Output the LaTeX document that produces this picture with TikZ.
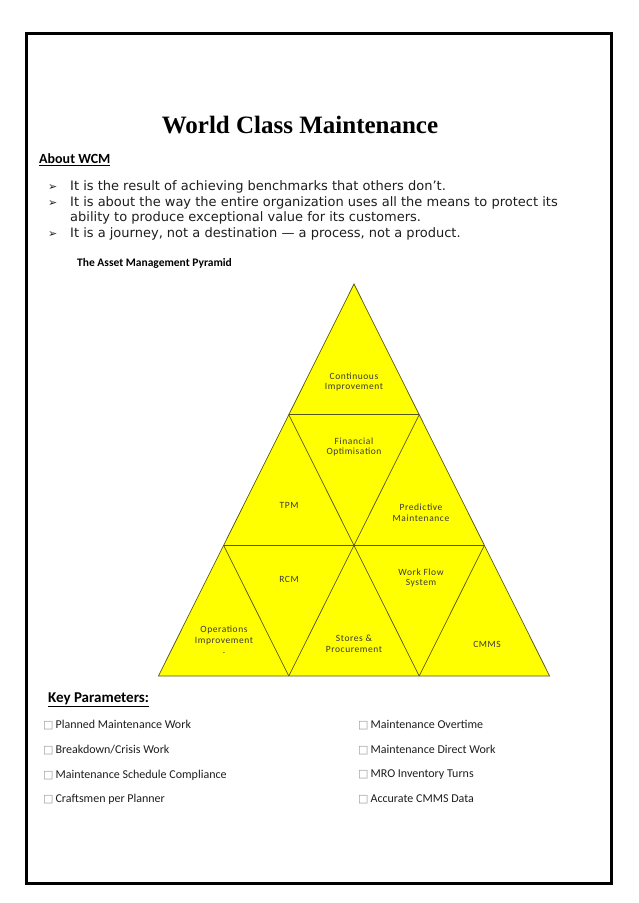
\documentclass[tikz,border=0pt]{standalone}
\definecolor{PYellow}{HTML}{FFFF00}
\definecolor{PEdge}{HTML}{55551C}
\definecolor{PText}{HTML}{3A3A3A}
\definecolor{BodyText}{HTML}{1E1E1E}
\definecolor{BoxGrey}{HTML}{9A9A9A}
\usepackage{fontspec}
\setmainfont{Carlito}
\newfontfamily\titlefont{Liberation Serif}
\newfontfamily\verdfont{DejaVu Sans}
\newfontfamily\pyrfont[LetterSpace=6]{Carlito}
\usepackage{tikz}
\usetikzlibrary{calc,positioning}
\newcommand{\sqmark}{{\verdfont\fontsize{11}{12}\selectfont\color{BoxGrey}□}\,}

\begin{document}
\begin{tikzpicture}[x=1pt,y=-1pt,
    pyredge/.style={draw=PEdge,line width=0.7pt,line join=miter},
    pyrlabel/.style={font=\pyrfont\fontsize{9.5}{10.7}\selectfont,text=PText,
                     align=center,inner sep=0pt},
    bulletmark/.style={font=\verdfont\fontsize{11}{12}\selectfont,text=BodyText,
                       anchor=base west,inner sep=0pt},
    bullettext/.style={font=\verdfont\fontsize{13}{15}\selectfont,text=BodyText,
                       anchor=base west,inner sep=0pt},
    paramitem/.style={font=\fontsize{12}{14}\selectfont,text=BodyText,
                      anchor=west,inner sep=0pt}]
    \useasboundingbox (0,0) rectangle (638,903);
    \fill[white] (0,0) rectangle (638,903);
    \draw[line width=3pt] (26.5,33) rectangle (611,883);

    \node[font=\titlefont\bfseries\fontsize{25}{28}\selectfont] (title) at (300,125)
      {World Class Maintenance};
    \node[anchor=west,inner sep=0pt,font=\bfseries\fontsize{14}{16}\selectfont]
      (about) at (39,160) {\underline{About WCM}};

    \node[bulletmark] (m1) at (48,190) {➢};
    \node[bullettext] (b1) at (70,190) {It is the result of achieving benchmarks that others don’t.};
    \node[bulletmark] (m2) at (48,206) {➢};
    \node[bullettext] (b2) at (70,206) {It is about the way the entire organization uses all the means to protect its};
    \node[bullettext] (b2b) at (70,221) {ability to produce exceptional value for its customers.};
    \node[bulletmark] (m3) at (48,237) {➢};
    \node[bullettext] (b3) at (70,237) {It is a journey, not a destination — a process, not a product.};

    \node[anchor=west,inner sep=0pt,font=\bfseries\fontsize{11.5}{13}\selectfont]
      (pyrhead) at (77,263) {The Asset Management Pyramid};

    \coordinate (A) at (354,284);
    \coordinate (L) at (158.4,676);
    \coordinate (R) at (549.6,676);
    \fill[PYellow] (A) -- (L) -- (R) -- cycle;
    \foreach \k in {1,2} {
      \draw[pyredge] ($(A)!\k/3!(L)$) -- ($(A)!\k/3!(R)$);
      \draw[pyredge] ($(L)!\k/3!(R)$) -- ($(R)!1-\k/3!(A)$);
      \draw[pyredge] ($(R)!\k/3!(L)$) -- ($(L)!1-\k/3!(A)$);
    }
    \draw[pyredge] (A) -- (L) -- (R) -- cycle;

    \node[pyrlabel] (ci) at (354,382) {Continuous\\Improvement};
    \node[pyrlabel] (fo) at (354,447) {Financial\\Optimisation};
    \node[pyrlabel] (tpm) at (289,505) {TPM};
    \node[pyrlabel] (pm) at (421,513) {Predictive\\Maintenance};
    \node[pyrlabel] (rcm) at (289,579) {RCM};
    \node[pyrlabel] (wfs) at (421,578) {Work Flow\\System};
    \node[pyrlabel] (oi) at (224,640) {Operations\\Improvement\\.};
    \node[pyrlabel] (sp) at (354,644) {Stores \&\\Procurement};
    \node[pyrlabel] (cmms) at (487,644) {CMMS};

    \node[anchor=west,inner sep=0pt,font=\bfseries\fontsize{15}{17}\selectfont]
      (keyhead) at (48,700) {\underline{Key Parameters:}};

    \node[paramitem] (p1) at (43,725) {\sqmark Planned Maintenance Work};
    \node[paramitem] (p2) at (43,750) {\sqmark Breakdown/Crisis Work};
    \node[paramitem] (p3) at (43,775) {\sqmark Maintenance Schedule Compliance};
    \node[paramitem] (p4) at (43,799) {\sqmark Craftsmen per Planner};
    \node[paramitem] (p5) at (358,725) {\sqmark Maintenance Overtime};
    \node[paramitem] (p6) at (358,750) {\sqmark Maintenance Direct Work};
    \node[paramitem] (p7) at (358,775) {\sqmark MRO Inventory Turns};
    \node[paramitem] (p8) at (358,799) {\sqmark Accurate CMMS Data};
\end{tikzpicture}
\end{document}
